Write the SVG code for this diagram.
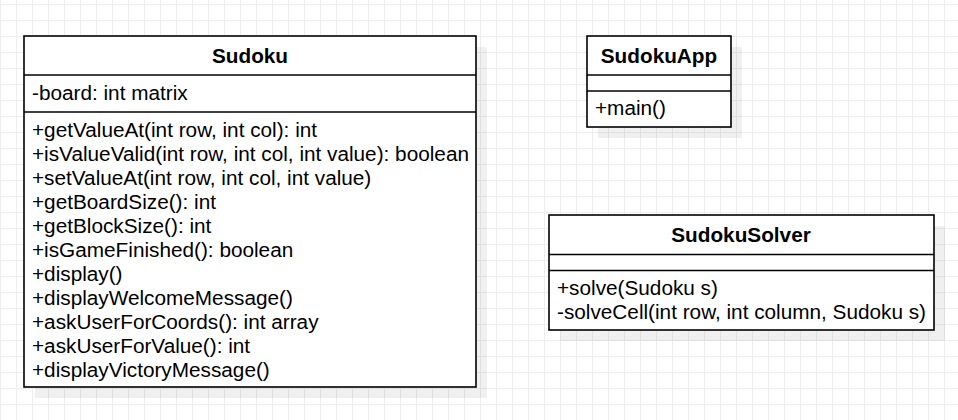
<svg xmlns="http://www.w3.org/2000/svg" width="958" height="420" viewBox="0 0 958 420">
<defs>
<pattern id="grid" x="0" y="4" width="16" height="16" patternUnits="userSpaceOnUse">
<path d="M0.5 0V16M0 0.5H16" fill="none" stroke="#ededed" stroke-width="1"/>
</pattern>
</defs>
<style>
.box{fill:#fff;stroke:#000;stroke-width:1.6}
.sh{fill:#000;fill-opacity:0.06}
.sep{stroke:#000;stroke-width:1.6}
text{font-family:"Liberation Sans",Arial,sans-serif;font-size:20.75px;fill:#000}
.t{font-weight:bold;text-anchor:middle}
</style>
<rect width="958" height="420" fill="#fff"/>
<rect width="958" height="420" fill="url(#grid)"/>
<g id="connectors"/>
<g id="Sudoku">
<rect class="sh" x="35" y="47" width="452" height="351"/>
<rect class="box" x="24" y="36" width="452" height="351"/>
<line class="sep" x1="24" y1="75" x2="476" y2="75"/>
<line class="sep" x1="24" y1="112" x2="476" y2="112"/>
<text class="t" x="250" y="62.5">Sudoku</text>
<text x="32" y="99.5">-board: int matrix</text>
<text x="32" y="136.5">+getValueAt(int row, int col): int</text>
<text x="32" y="160.5">+isValueValid(int row, int col, int value): boolean</text>
<text x="32" y="184.5">+setValueAt(int row, int col, int value)</text>
<text x="32" y="208.5">+getBoardSize(): int</text>
<text x="32" y="232.5">+getBlockSize(): int</text>
<text x="32" y="256.5">+isGameFinished(): boolean</text>
<text x="32" y="280.5">+display()</text>
<text x="32" y="304.5">+displayWelcomeMessage()</text>
<text x="32" y="328.5">+askUserForCoords(): int array</text>
<text x="32" y="352.5">+askUserForValue(): int</text>
<text x="32" y="376.5">+displayVictoryMessage()</text>
</g>
<g id="SudokuApp">
<rect class="sh" x="598" y="47" width="144" height="91"/>
<rect class="box" x="587" y="36" width="144" height="91"/>
<line class="sep" x1="587" y1="75" x2="731" y2="75"/>
<line class="sep" x1="587" y1="91" x2="731" y2="91"/>
<text class="t" x="659" y="62.5">SudokuApp</text>
<text x="595" y="115">+main()</text>
</g>
<g id="SudokuSolver">
<rect class="sh" x="560" y="226" width="385" height="115"/>
<rect class="box" x="549" y="215" width="385" height="115"/>
<line class="sep" x1="549" y1="254.5" x2="934" y2="254.5"/>
<line class="sep" x1="549" y1="270.5" x2="934" y2="270.5"/>
<text class="t" x="741" y="241.5">SudokuSolver</text>
<text x="557" y="294.5">+solve(Sudoku s)</text>
<text x="557" y="318.5">-solveCell(int row, int column, Sudoku s)</text>
</g>
</svg>
